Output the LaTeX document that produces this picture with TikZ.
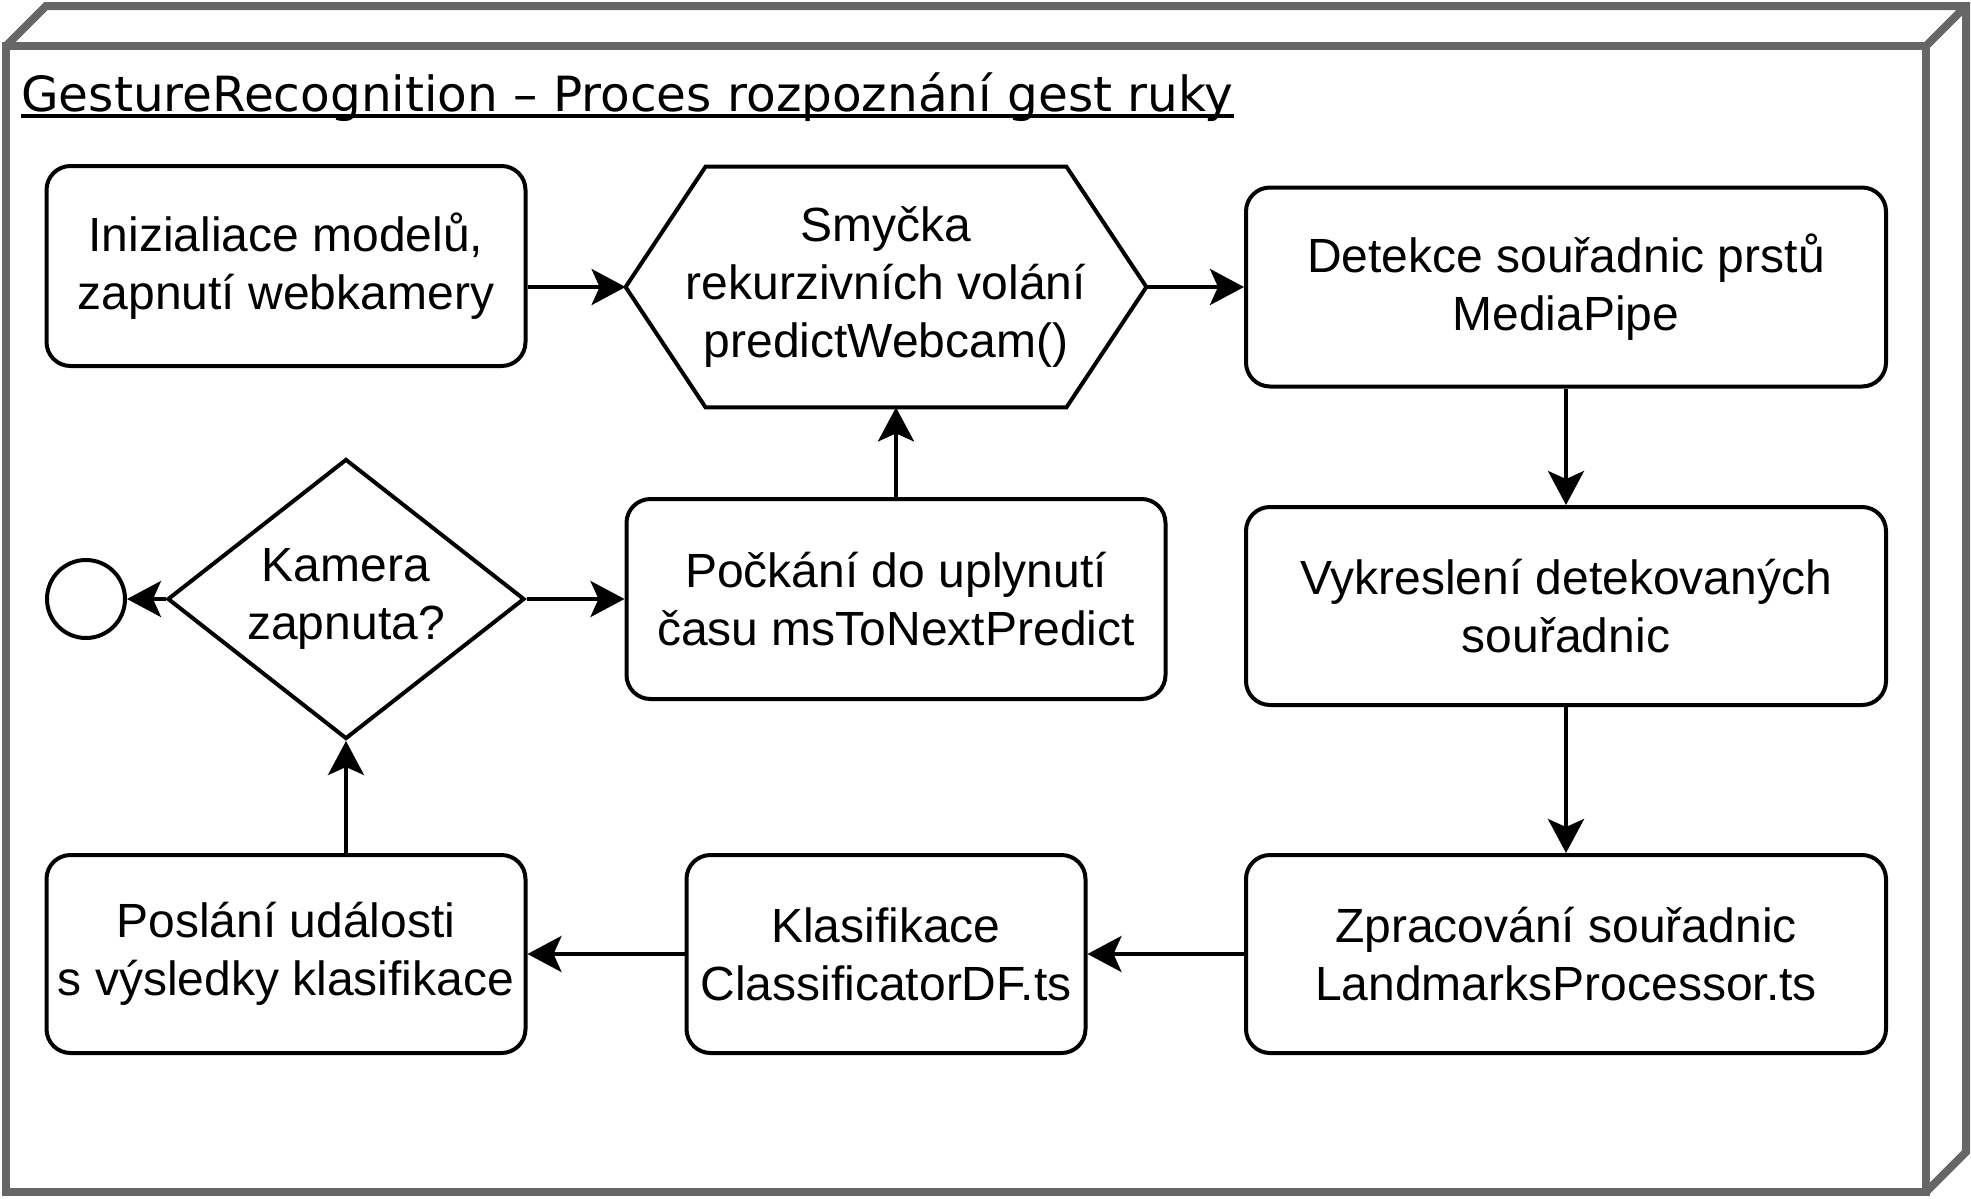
\documentclass[tikz,border=0pt]{standalone}
\usepackage{fontspec}
\setmainfont{Liberation Sans}
\newfontfamily\titlefont{DejaVu Sans}
\usepackage{xcolor}
\usetikzlibrary{shapes, arrows, positioning, arrows.meta}
\definecolor{framegray}{HTML}{666666}

\tikzset{
  stepbox/.style={draw, line width=2pt, rounded corners=12pt, align=center, inner sep=0pt, font=\fontsize{24}{29}\selectfont},
  flow/.style={-{Stealth[length=17pt, width=18pt, inset=4pt]}, line width=2pt},
}

\begin{document}
\begin{tikzpicture}[x=0.5pt, y=-0.5pt]
        \useasboundingbox (0,0) rectangle (1971,1199);

        % Draw the 3D frame round the whole process
        \draw[framegray, line width=4pt] (6,46) rectangle (1926,1192);
        \draw[framegray, line width=4pt] (6,46) -- (46,6) -- (1966,6) -- (1966,1152) -- (1926,1192);
        \draw[framegray, line width=4pt] (1926,46) -- (1966,6);

        % Draw underlined title
        \node[anchor=base west, inner sep=0pt, font=\titlefont\fontsize{24.25}{29}\selectfont] (title) at (21,111) {GestureRecognition – Proces rozpoznání gest ruky};
        \draw[line width=2pt] ([yshift=-2.5pt]title.base west) -- ([yshift=-2.5pt]title.base east);

        % Top row
        \node[stepbox, minimum width=239.5pt, minimum height=100pt] (init) at (286,266) {Inizialiace modelů,\\zapnutí webkamery};
        \node[align=center, inner sep=0pt, minimum width=260pt, minimum height=120pt, font=\fontsize{24}{29}\selectfont] (loop) at (886,287) {Smyčka\\rekurzivních volání\\predictWebcam()};
        \draw[line width=2pt] (loop.west) -- ([xshift=40pt]loop.north west) -- ([xshift=-40pt]loop.north east) -- (loop.east) -- ([xshift=-40pt]loop.south east) -- ([xshift=40pt]loop.south west) -- cycle;
        \node[stepbox, minimum width=320pt, minimum height=99.5pt] (detect) at (1566,287) {Detekce souřadnic prstů\\MediaPipe};

        % Middle row
        \node[draw, circle, line width=2pt, minimum size=39pt, inner sep=0pt] (stop) at (86,599) {};
        \node[draw, diamond, aspect=1.275, line width=2pt, inner sep=0pt, minimum width=178.5pt, minimum height=140pt, align=center, font=\fontsize{24}{29}\selectfont] (check) at (346,599) {Kamera\\zapnuta?};
        \node[stepbox, minimum width=269.5pt, minimum height=100pt] (wait) at (896,599) {Počkání do uplynutí\\času msToNextPredict};
        \node[stepbox, minimum width=320pt, minimum height=99pt] (paint) at (1566,606) {Vykreslení detekovaných\\souřadnic};

        % Bottom row
        \node[stepbox, minimum width=239.5pt, minimum height=99pt] (send) at (286,954) {Poslání události\\s výsledky klasifikace};
        \node[stepbox, minimum width=199.5pt, minimum height=99pt] (classify) at (886,954) {Klasifikace\\ClassificatorDF.ts};
        \node[stepbox, minimum width=320pt, minimum height=99pt] (proc) at (1566,954) {Zpracování souřadnic\\LandmarksProcessor.ts};

        % Draw arrows between the steps
        \draw[flow] (init.east |- loop.west) -- (loop.west);
        \draw[flow] (loop.east) -- (loop.east -| detect.west);
        \draw[flow] (detect.south) -- (paint.north);
        \draw[flow] (paint.south) -- (proc.north);
        \draw[flow] (proc.west) -- (classify.east);
        \draw[flow] (classify.west) -- (send.east);
        \draw[flow] (check.south |- send.north) -- (check.south);
        \draw[flow] (check.east) -- (wait.west);
        \draw[flow] (wait.north) -- (wait.north |- loop.south);
        \draw[flow] (check.west) -- (stop.east);
\end{tikzpicture}
\end{document}
